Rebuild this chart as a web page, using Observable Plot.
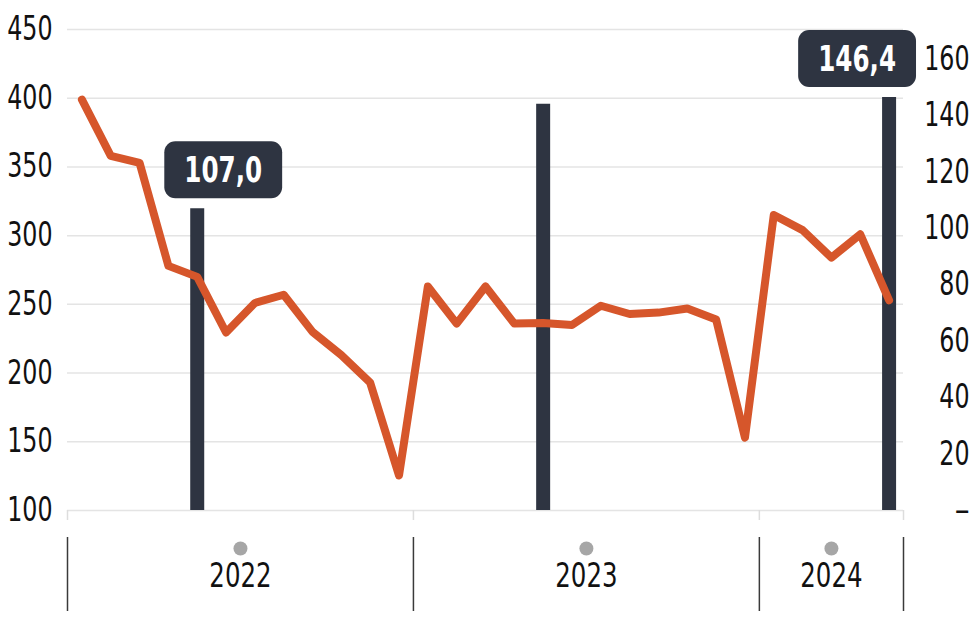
<!DOCTYPE html>
<html><head><meta charset="utf-8">
<script src="https://cdn.jsdelivr.net/npm/d3@7"></script>
<script src="https://cdn.jsdelivr.net/npm/@observablehq/plot@0.6"></script>
<style>
body{margin:0;background:#fff;}
#chart svg{display:block;}
</style></head><body><div id="chart"></div>
<script>
// ---- data ----
const months = ["2022-01","2022-02","2022-03","2022-04","2022-05","2022-06","2022-07","2022-08","2022-09","2022-10","2022-11","2022-12",
                "2023-01","2023-02","2023-03","2023-04","2023-05","2023-06","2023-07","2023-08","2023-09","2023-10","2023-11","2023-12",
                "2024-01","2024-02","2024-03","2024-04","2024-05"];
const lineValues = [399,358,353,278,270,229.5,251,257,230,213,193,125.5,
                    263,236,263,236,236.5,235,249,243,244,247,239,153,
                    315,304,284,301,253];
const barMonths = ["2022-05","2023-05","2024-05"];
const barValues = [107.0, 144.0, 146.4];
const barLabels = ["107,0", null, "146,4"];
const years = ["2022","2023","2024"];
const leftTicks = [100,150,200,250,300,350,400,450];
const rightTicks = [0,20,40,60,80,100,120,140,160];

// ---- scale helpers ----
const LEFT_MIN = 100, LEFT_MAX = 450, RIGHT_MAX = 170.5;
const toLeft = v => LEFT_MIN + v * (LEFT_MAX - LEFT_MIN) / RIGHT_MAX;
const fromLeft = d => (d - LEFT_MIN) * RIGHT_MAX / (LEFT_MAX - LEFT_MIN);
const monthIndex = m => { const [y, mo] = m.split("-").map(Number); return (y - 2022) * 12 + (mo - 1); };

const lineData = months.map((m, i) => ({x: monthIndex(m) + 0.5, y: lineValues[i]}));
const barData = barMonths.map((m, i) => ({x: monthIndex(m) + 0.5, v: barValues[i], label: barLabels[i], i}));
const lastIndex = monthIndex(months[months.length - 1]) + 1;
const yearBounds = [...years.map(y => monthIndex(y + "-01")), lastIndex];
const yearData = years.map((y, i) => ({year: y, x: (yearBounds[i] + yearBounds[i + 1]) / 2}));

const FONT = "'Liberation Sans Narrow','Arial Narrow','DejaVu Sans Condensed',sans-serif";
const BAR = "#2e3441";
const LINE = "#d6562b";

const chart = Plot.plot({
  width: 971, height: 620,
  marginLeft: 67, marginRight: 68, marginTop: 29, marginBottom: 110,
  style: {fontFamily: FONT, fontSize: "33px", color: "#111", background: "#fff", overflow: "visible"},
  x: {domain: [0, lastIndex], axis: null},
  y: {domain: [LEFT_MIN, LEFT_MAX], axis: null},
  marks: [
    Plot.gridY(leftTicks, {stroke: "#e4e4e4", strokeOpacity: 1, strokeWidth: 1.5}),
    Plot.axisY(leftTicks, {anchor: "left", tickSize: 0, tickPadding: 15, label: null, fontSize: 33, fill: "#111"}),
    Plot.axisY(rightTicks.map(toLeft), {anchor: "right", tickSize: 0, tickPadding: 66, textAnchor: "end", label: null, fontSize: 33, fill: "#111",
      tickFormat: d => { const v = Math.round(fromLeft(d)); return v === 0 ? "–" : String(v); }}),
    Plot.ruleX(yearBounds, {insetTop: 481, insetBottom: -10, stroke: "#dddddd", strokeWidth: 1.5}),
    Plot.ruleX(yearBounds, {insetTop: 508, insetBottom: -101, stroke: "#3a3a3a", strokeWidth: 1.5}),
    Plot.dot(yearData, {x: "x", frameAnchor: "bottom", dy: 38, r: 7, fill: "#a6a6a6"}),
    Plot.text(yearData, {x: "x", frameAnchor: "bottom", dy: 76, text: "year", fontSize: 34, fill: "#111"}),
    Plot.ruleX(barData, {x: "x", y1: LEFT_MIN, y2: d => toLeft(d.v), stroke: BAR, strokeWidth: 14}),
    Plot.line(lineData, {x: "x", y: "y", stroke: LINE, strokeWidth: 8, strokeLinejoin: "round", strokeLinecap: "round"}),
    Plot.text(barData.filter(d => d.label && d.i < barData.length - 1), {x: "x", y: d => toLeft(d.v), text: "label", dx: 26, dy: -38,
      fill: "#fff", fontWeight: "bold", fontSize: 36, ariaDescription: "value-label"}),
    Plot.text(barData.filter(d => d.label && d.i === barData.length - 1), {x: "x", y: d => toLeft(d.v), text: "label", dx: -32, dy: -38,
      fill: "#fff", fontWeight: "bold", fontSize: 36, ariaDescription: "value-label"})
  ]
});
document.getElementById("chart").appendChild(chart);

// condense all texts horizontally (narrow typeface look)
chart.querySelectorAll("text").forEach(t => {
  const bold = t.closest('g[aria-description="value-label"]') !== null;
  const len = t.getComputedTextLength();
  if (len > 0 && t.textContent !== "–") {
    t.setAttribute("textLength", len * (bold ? 0.76 : 0.8));
    t.setAttribute("lengthAdjust", "spacingAndGlyphs");
  }
});

// rounded label boxes behind the value labels
chart.querySelectorAll('g[aria-description="value-label"] text').forEach(t => {
  const b = t.getBBox();
  const r = document.createElementNS("http://www.w3.org/2000/svg", "rect");
  const h = 57, padX = 20;
  r.setAttribute("x", b.x - padX);
  r.setAttribute("y", b.y + b.height / 2 - h / 2);
  r.setAttribute("width", b.width + 2 * padX);
  r.setAttribute("height", h);
  r.setAttribute("rx", 11);
  r.setAttribute("fill", BAR);
  if (t.getAttribute("transform")) r.setAttribute("transform", t.getAttribute("transform"));
  t.parentNode.insertBefore(r, t);
});
</script>
</body></html>
